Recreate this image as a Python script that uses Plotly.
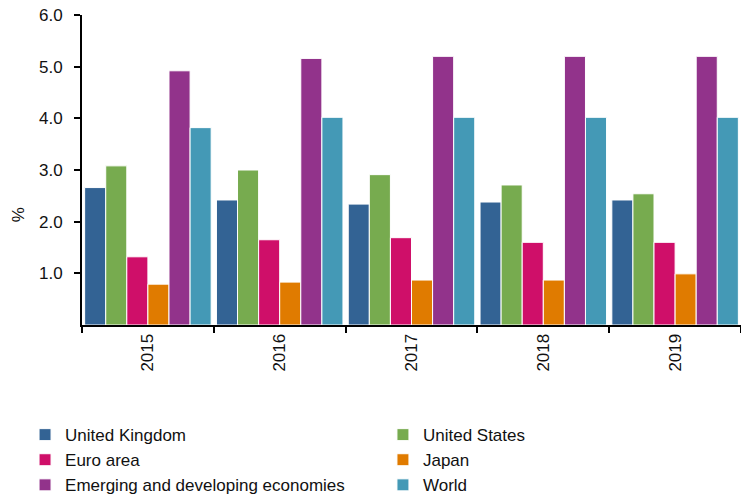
import plotly.graph_objects as go

years = ["2015", "2016", "2017", "2018", "2019"]
series_names = ["United Kingdom", "United States", "Euro area", "Japan",
                "Emerging and developing economies", "World"]
uk = [2.66, 2.42, 2.34, 2.38, 2.42]
us = [3.08, 3.00, 2.91, 2.71, 2.54]
euro = [1.32, 1.65, 1.69, 1.60, 1.60]
japan = [0.79, 0.83, 0.87, 0.87, 0.99]
emerging = [4.92, 5.16, 5.20, 5.20, 5.20]
world = [3.82, 4.02, 4.02, 4.02, 4.02]
colors = ["#336394", "#77ab4f", "#cf0f69", "#e07b00", "#92338b", "#4499b6"]
legend_column = ["legend", "legend2", "legend", "legend2", "legend", "legend2"]
y_ticks = [1, 2, 3, 4, 5, 6]
y_tick_text = ["1.0", "2.0", "3.0", "4.0", "5.0", "6.0"]

fig = go.Figure()
for name, vals, col, lg in zip(series_names, [uk, us, euro, japan, emerging, world],
                               colors, legend_column):
    fig.add_trace(go.Bar(x=years, y=vals, name=name, legend=lg,
                         marker=dict(color=col, line=dict(color="white", width=1))))

font = "Liberation Sans, Arial, sans-serif"
legend_common = dict(orientation="v", xref="container", yref="container",
                     y=0.16, xanchor="left", yanchor="top", itemwidth=30,
                     tracegroupgap=0, font=dict(size=17), traceorder="normal",
                     bgcolor="rgba(0,0,0,0)")
fig.update_layout(
    width=741, height=487,
    margin=dict(l=74, r=8, t=7, b=170, autoexpand=False),
    plot_bgcolor="white", paper_bgcolor="white",
    barmode="group", bargap=0.04, bargroupgap=0.0,
    font=dict(family=font, size=16, color="#111111"),
    showlegend=True,
    legend=dict(x=0.023, **legend_common),
    legend2=dict(x=0.506, **legend_common),
    xaxis=dict(showline=True, linecolor="black", linewidth=2, automargin=False,
               ticks="outside", tickson="boundaries", ticklen=6, tickwidth=2,
               tickcolor="black", tickangle=-90, tickfont=dict(size=17)),
    yaxis=dict(range=[0, 6], showline=True, linecolor="black", linewidth=2,
               automargin=False,
               ticks="outside", ticklen=6, tickwidth=2, tickcolor="black",
               tickvals=y_ticks, ticktext=y_tick_text, showgrid=False, zeroline=False,
               tickfont=dict(size=17), ticklabelstandoff=8,
               ticklabeloverflow="allow"),
    annotations=[dict(text="%", textangle=-90, xref="paper", yref="paper",
                      x=-0.095, y=0.355, xanchor="center", yanchor="middle",
                      showarrow=False, font=dict(size=17))],
)
fig.write_html("out.html")
